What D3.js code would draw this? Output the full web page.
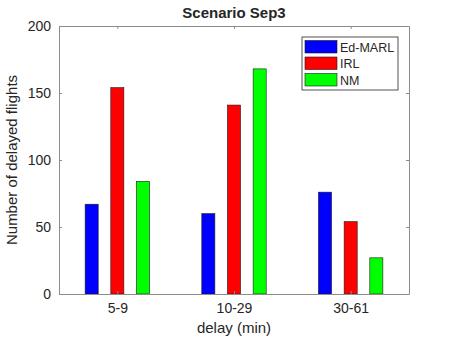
<!DOCTYPE html>
<html>
<head>
<meta charset="utf-8">
<script src="https://cdn.jsdelivr.net/npm/d3@7"></script>
<style>
  body { margin: 0; background: #fff; }
  text { font-family: "Liberation Sans", Arial, sans-serif; fill: #262626; }
</style>
</head>
<body>
<script>
// chart data
var categories = ["5-9", "10-29", "30-61"];
var seriesNames = ["Ed-MARL", "IRL", "NM"];
var edMarl = [67, 60, 76];
var irl = [154, 141, 54];
var nm = [84, 168, 27];
var yTicks = [0, 50, 100, 150, 200];

var colors = ["#0000ff", "#ff0000", "#00ff00"];
var series = [edMarl, irl, nm];

var margin = {top: 26, right: 43, bottom: 45, left: 59},
    width = 452 - margin.left - margin.right,
    height = 339 - margin.top - margin.bottom;

var svg = d3.select("body").append("svg")
    .attr("width", 452)
    .attr("height", 339)
  .append("g")
    .attr("transform", "translate(" + margin.left + "," + margin.top + ")");

// categories sit at 1..n like matlab
var x = d3.scaleLinear()
    .domain([0.5, categories.length + 0.5])
    .range([0, width]);

var y = d3.scaleLinear()
    .domain([0, 200])
    .range([height, 0]);

var offset = 0.22, barW = 0.112;

series.forEach(function(vals, s) {
  svg.selectAll(".bar" + s)
      .data(vals)
    .enter().append("rect")
      .attr("class", "bar" + s)
      .attr("x", function(d, i) { return x(i + 1 + (s - 1) * offset - barW / 2); })
      .attr("width", x(barW) - x(0))
      .attr("y", function(d) { return y(d); })
      .attr("height", function(d) { return y(0) - y(d); })
      .attr("fill", colors[s])
      .attr("stroke", "#1a1a1a")
      .attr("stroke-width", 0.6);
});

var catTicks = categories.map(function(c, i) { return i + 1; });

var xAxis = d3.axisBottom(x)
    .tickValues(catTicks)
    .tickFormat(function(d) { return categories[d - 1]; })
    .tickSizeInner(-3)
    .tickSizeOuter(0)
    .tickPadding(9);

var yAxis = d3.axisLeft(y)
    .tickValues(yTicks)
    .tickSizeInner(-3)
    .tickSizeOuter(0)
    .tickPadding(8);

var gx = svg.append("g")
    .attr("transform", "translate(0," + height + ")")
    .call(xAxis);

var gy = svg.append("g")
    .call(yAxis);

// mirrored ticks on top and right
svg.append("g")
    .call(d3.axisTop(x).tickValues(catTicks).tickFormat("").tickSizeInner(-3).tickSizeOuter(0));
svg.append("g")
    .attr("transform", "translate(" + width + ",0)")
    .call(d3.axisRight(y).tickValues(yTicks).tickFormat("").tickSizeInner(-3).tickSizeOuter(0));

svg.selectAll(".domain, .tick line").attr("stroke", "#8c8c8c");
svg.selectAll(".tick text").style("font-size", "14px").attr("fill", "#262626");

// title and labels
svg.append("text")
    .attr("x", width / 2)
    .attr("y", -8)
    .attr("text-anchor", "middle")
    .style("font-size", "15px")
    .style("font-weight", "bold")
    .text("Scenario Sep3");

svg.append("text")
    .attr("x", width / 2)
    .attr("y", height + 39)
    .attr("text-anchor", "middle")
    .style("font-size", "15px")
    .text("delay (min)");

svg.append("text")
    .attr("transform", "rotate(-90)")
    .attr("x", -height / 2)
    .attr("y", -42)
    .attr("text-anchor", "middle")
    .style("font-size", "15px")
    .text("Number of delayed flights");

// legend
var lg = svg.append("g")
    .attr("transform", "translate(" + (x(3.5) - 107) + "," + 11 + ")");

lg.append("rect")
    .attr("width", 96)
    .attr("height", 53)
    .attr("fill", "#fff")
    .attr("stroke", "#262626")
    .attr("stroke-width", 0.8);

seriesNames.forEach(function(name, i) {
  lg.append("rect")
      .attr("x", 3)
      .attr("y", 3.5 + i * 16.5)
      .attr("width", 32)
      .attr("height", 12.5)
      .attr("fill", colors[i])
      .attr("stroke", "#1a1a1a")
      .attr("stroke-width", 0.6);
  lg.append("text")
      .attr("x", 38)
      .attr("y", 14.5 + i * 16.5)
      .style("font-size", "12.5px")
      .text(name);
});
</script>
</body>
</html>
